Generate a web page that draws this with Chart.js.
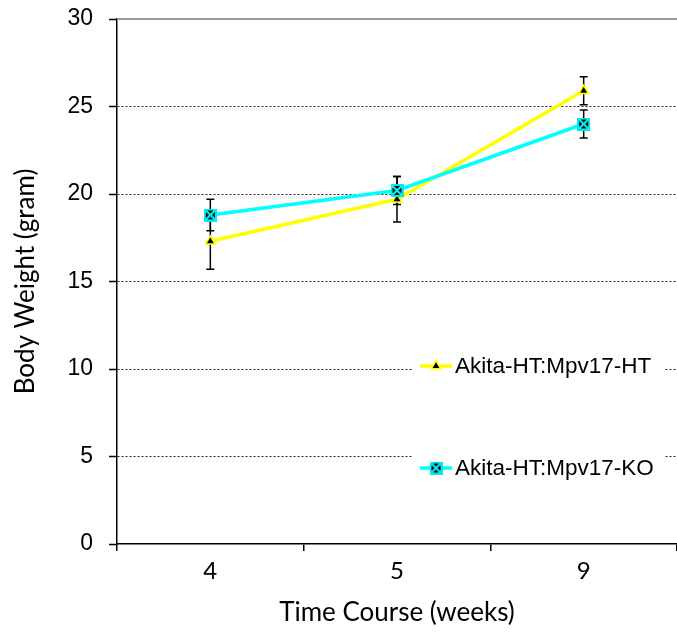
<!DOCTYPE html>
<html>
<head>
<meta charset="utf-8">
<script src="https://cdn.jsdelivr.net/npm/chart.js@4.4.0/dist/chart.umd.min.js"></script>
<style>
  body { margin: 0; background: #fff; }
  #wrap { width: 677px; height: 639px; }
</style>
</head>
<body>
<div id="wrap"><canvas id="weightChart"></canvas></div>
<script>
// data
const weeks = ['4', '5', '9'];
const htLabel = 'Akita-HT:Mpv17-HT';
const koLabel = 'Akita-HT:Mpv17-KO';
const htMean = [17.3, 19.7, 25.9];
const htErr = [1.6, 1.3, 0.8];
const koMean = [18.8, 20.2, 24.0];
const koErr = [0.9, 0.8, 0.8];
const yTicks = [0, 5, 10, 15, 20, 25, 30];

// black square with cyan X, like the excel marker
function makeKoMarker(size) {
    const c = document.createElement('canvas');
    c.width = size;
    c.height = size;
    const g = c.getContext('2d');
    g.fillStyle = '#00e8f0';
    g.fillRect(0, 0, size, size);
    g.fillStyle = '#000';
    g.fillRect(2, 2, size - 4, size - 4);
    g.strokeStyle = '#00ffff';
    g.lineWidth = 2;
    g.beginPath();
    g.moveTo(2, 2); g.lineTo(size - 2, size - 2);
    g.moveTo(size - 2, 2); g.lineTo(2, size - 2);
    g.stroke();
    return c;
}
const koMarker = makeKoMarker(13);

const errorBars = {
    id: 'errorBars',
    beforeDatasetsDraw(chart) {
        const { ctx, scales: { x, y } } = chart;
        ctx.save();
        // top frame line at 30
        const top = y.getPixelForValue(30);
        ctx.strokeStyle = '#9a9a9a';
        ctx.lineWidth = 2;
        ctx.beginPath();
        ctx.moveTo(chart.chartArea.left, top);
        ctx.lineTo(chart.chartArea.right, top);
        ctx.stroke();

        ctx.strokeStyle = '#000';
        ctx.lineWidth = 1.5;
        chart.data.datasets.forEach(ds => {
            ds.data.forEach((m, i) => {
                const px = x.getPixelForValue(i);
                const hi = y.getPixelForValue(m + ds.errors[i]);
                const lo = y.getPixelForValue(m - ds.errors[i]);
                ctx.beginPath();
                ctx.moveTo(px, hi); ctx.lineTo(px, lo);
                ctx.moveTo(px - 4, hi); ctx.lineTo(px + 4, hi);
                ctx.moveTo(px - 4, lo); ctx.lineTo(px + 4, lo);
                ctx.stroke();
            });
        });
        ctx.restore();
    }
};

const boxLegend = {
    id: 'boxLegend',
    afterDraw(chart, args, opts) {
        const ctx = chart.ctx;
        ctx.save();
        ctx.fillStyle = '#fff';
        ctx.fillRect(opts.left, opts.top, opts.width, opts.height);
        chart.data.datasets.forEach((ds, i) => {
            const ly = opts.rows[i];
            ctx.strokeStyle = ds.borderColor;
            ctx.lineWidth = 3.5;
            ctx.beginPath();
            ctx.moveTo(opts.lineX, ly);
            ctx.lineTo(opts.lineX + 32, ly);
            ctx.stroke();
            ctx.fillStyle = ds.pointBackgroundColor || '#000';
            ctx.strokeStyle = ds.pointBorderColor || ds.borderColor;
            ctx.lineWidth = ds.pointBorderWidth || 1;
            Chart.helpers.drawPoint(ctx, {
                pointStyle: ds.pointStyle,
                radius: ds.pointRadius || 6,
                rotation: 0,
                borderWidth: ds.pointBorderWidth || 1
            }, opts.lineX + 16, ly);
            ctx.fillStyle = '#000';
            ctx.font = '22.5px "Liberation Sans", Arial, sans-serif';
            ctx.textBaseline = 'middle';
            ctx.fillText(ds.label, opts.lineX + 35, ly + 1);
        });
        ctx.restore();
    }
};

const ctx = document.getElementById('weightChart').getContext('2d');
new Chart(ctx, {
    type: 'line',
    data: {
        labels: weeks,
        datasets: [{
            label: htLabel,
            data: htMean,
            errors: htErr,
            borderColor: '#ffff00',
            borderWidth: 3.5,
            pointStyle: 'triangle',
            pointRadius: 5.5,
            pointBackgroundColor: '#000',
            pointBorderColor: '#ffff00',
            pointBorderWidth: 1.5,
            order: 1
        }, {
            label: koLabel,
            data: koMean,
            errors: koErr,
            borderColor: '#00ffff',
            borderWidth: 3.5,
            pointStyle: koMarker,
            pointRadius: 6,
            order: 0
        }]
    },
    plugins: [errorBars, boxLegend],
    options: {
        responsive: true,
        maintainAspectRatio: false,
        animation: false,
        layout: { autoPadding: false, padding: { top: 19, right: 0, left: 0, bottom: 0 } },
        plugins: {
            legend: { display: false },
            tooltip: { enabled: false },
            boxLegend: { left: 413, top: 350, width: 251, height: 135, lineX: 420, rows: [366, 468] }
        },
        scales: {
            x: {
                offset: true,
                grid: { offset: true, drawOnChartArea: false, tickLength: 7, color: '#000', lineWidth: 1.5 },
                border: { color: '#000', width: 1.5 },
                ticks: { color: '#000', font: { family: 'Lato', size: 24 }, padding: 6, maxRotation: 0 },
                title: {
                    display: true,
                    text: 'Time Course (weeks)',
                    color: '#000',
                    font: { family: 'Lato', size: 26 },
                    padding: { top: 0, bottom: 11 }
                },
                afterFit: s => { s.height = 95; s.paddingLeft = 0; s.paddingRight = 0; }
            },
            y: {
                min: 0,
                max: 30,
                afterBuildTicks: s => { s.ticks = yTicks.map(v => ({ value: v })); },
                grid: {
                    color: c => (c.tick && (c.tick.value === 0 || c.tick.value === 30)) ? 'rgba(0,0,0,0)' : '#222',
                    lineWidth: 1,
                    tickColor: '#000',
                    tickWidth: 1.5,
                    tickLength: 8,
                    tickBorderDash: []
                },
                border: { color: '#000', width: 1.5, dash: [2, 2] },
                ticks: { color: '#000', font: { family: 'Liberation Sans', size: 23 }, padding: 16 },
                title: {
                    display: true,
                    text: 'Body Weight (gram)',
                    color: '#000',
                    font: { family: 'Lato', size: 26 },
                    padding: { top: 10, bottom: 0 }
                },
                afterFit: s => { s.width = 117; s.paddingTop = 0; s.paddingBottom = 0; }
            }
        }
    }
});
</script>
</body>
</html>
